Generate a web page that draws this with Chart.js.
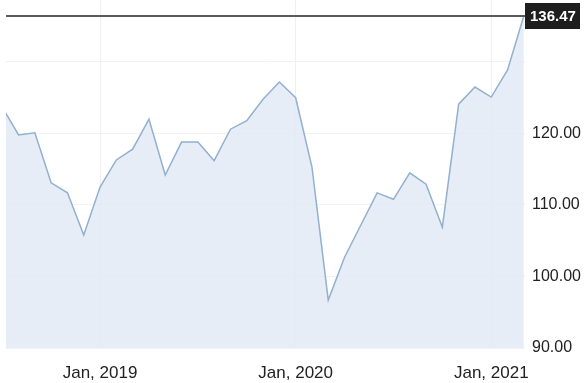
<!DOCTYPE html>
<html>
<head>
<meta charset="utf-8">
<script src="https://cdn.jsdelivr.net/npm/chart.js@4/dist/chart.umd.min.js"></script>
<style>
  html, body { margin: 0; padding: 0; background: #fff; }
  #wrap { width: 585px; height: 383px; position: relative; }
</style>
</head>
<body>
<div id="wrap"><canvas id="chart"></canvas></div>
<script>
// monthly closes, Jul 2018 .. Mar 2021
const months = ['2018-07', '2018-08', '2018-09', '2018-10', '2018-11', '2018-12',
  '2019-01', '2019-02', '2019-03', '2019-04', '2019-05', '2019-06',
  '2019-07', '2019-08', '2019-09', '2019-10', '2019-11', '2019-12',
  '2020-01', '2020-02', '2020-03', '2020-04', '2020-05', '2020-06',
  '2020-07', '2020-08', '2020-09', '2020-10', '2020-11', '2020-12',
  '2021-01', '2021-02', '2021-03'];
const closes = [123.7, 119.8, 120.1, 113.1, 111.7, 105.8,
  112.5, 116.3, 117.8, 122.0, 114.2, 118.8,
  118.8, 116.2, 120.6, 121.8, 124.8, 127.2,
  125.0, 115.3, 96.7, 102.7, 107.2, 111.7,
  110.8, 114.5, 112.9, 106.9, 124.1, 126.5,
  125.1, 128.9, 136.47];
const xTickMonths = ['2019-01', '2020-01', '2021-01'];
const xTickLabels = ['Jan, 2019', 'Jan, 2020', 'Jan, 2021'];
const yTicks = [90, 100, 110, 120, 130];
const yLabelled = [90, 100, 110, 120];

const points = closes.map((v, i) => ({ x: i, y: v }));
const xTickPos = xTickMonths.map(m => months.indexOf(m));

// horizontal marker at the latest value, with a dark tag on the right
const lastValuePlugin = {
  id: 'lastValue',
  afterDatasetsDraw(chart) {
    const { ctx, chartArea, scales } = chart;
    const last = closes[closes.length - 1];
    const y = Math.round(scales.y.getPixelForValue(last));
    ctx.save();
    ctx.strokeStyle = '#5a5a5a';
    ctx.lineWidth = 2;
    ctx.beginPath();
    ctx.moveTo(chartArea.left, y);
    ctx.lineTo(chartArea.right, y);
    ctx.stroke();
    ctx.fillStyle = '#1e1e1e';
    ctx.fillRect(chartArea.right, y - 13, 55, 26);
    ctx.fillStyle = '#fff';
    ctx.font = 'bold 15px "Liberation Sans", Arial, sans-serif';
    ctx.textAlign = 'left';
    ctx.textBaseline = 'middle';
    ctx.fillText(last.toFixed(2), chartArea.right + 5, y + 1);
    ctx.restore();
  }
};

const noPad = (scale) => {
  scale.paddingTop = 0;
  scale.paddingBottom = 0;
  scale.paddingLeft = 0;
  scale.paddingRight = 0;
};

new Chart(document.getElementById('chart'), {
  type: 'line',
  data: {
    datasets: [{
      data: points,
      borderColor: '#92b0d0',
      borderWidth: 1.5,
      backgroundColor: 'rgba(226,234,244,0.85)',
      fill: 'start',
      pointRadius: 0,
      tension: 0
    }]
  },
  options: {
    responsive: true,
    maintainAspectRatio: false,
    animation: false,
    layout: { padding: { left: 6, top: 0, right: 0, bottom: 0 } },
    plugins: { legend: { display: false }, tooltip: { enabled: false } },
    scales: {
      x: {
        type: 'linear',
        min: 0.23,
        max: 32.07,
        afterBuildTicks: (scale) => { scale.ticks = xTickPos.map(v => ({ value: v })); },
        afterFit: (scale) => { scale.height = 35; noPad(scale); },
        ticks: {
          color: '#222',
          font: { family: '"Liberation Sans", Arial, sans-serif', size: 17 },
          padding: 15,
          maxRotation: 0,
          autoSkip: false,
          callback: (v) => xTickLabels[xTickPos.indexOf(v)]
        },
        grid: { color: '#eef0f3', drawTicks: false },
        border: { display: false }
      },
      y: {
        position: 'right',
        min: 90,
        max: 138.67,
        afterBuildTicks: (scale) => { scale.ticks = yTicks.map(v => ({ value: v })); },
        afterFit: (scale) => { scale.width = 60; noPad(scale); },
        ticks: {
          color: '#222',
          font: { family: '"Liberation Sans", Arial, sans-serif', size: 16 },
          padding: 7,
          crossAlign: 'near',
          callback: (v) => yLabelled.includes(v) ? v.toFixed(2) : ''
        },
        grid: { color: '#f1f2f4', drawTicks: false },
        border: { display: false }
      }
    }
  },
  plugins: [lastValuePlugin]
});
</script>
</body>
</html>
